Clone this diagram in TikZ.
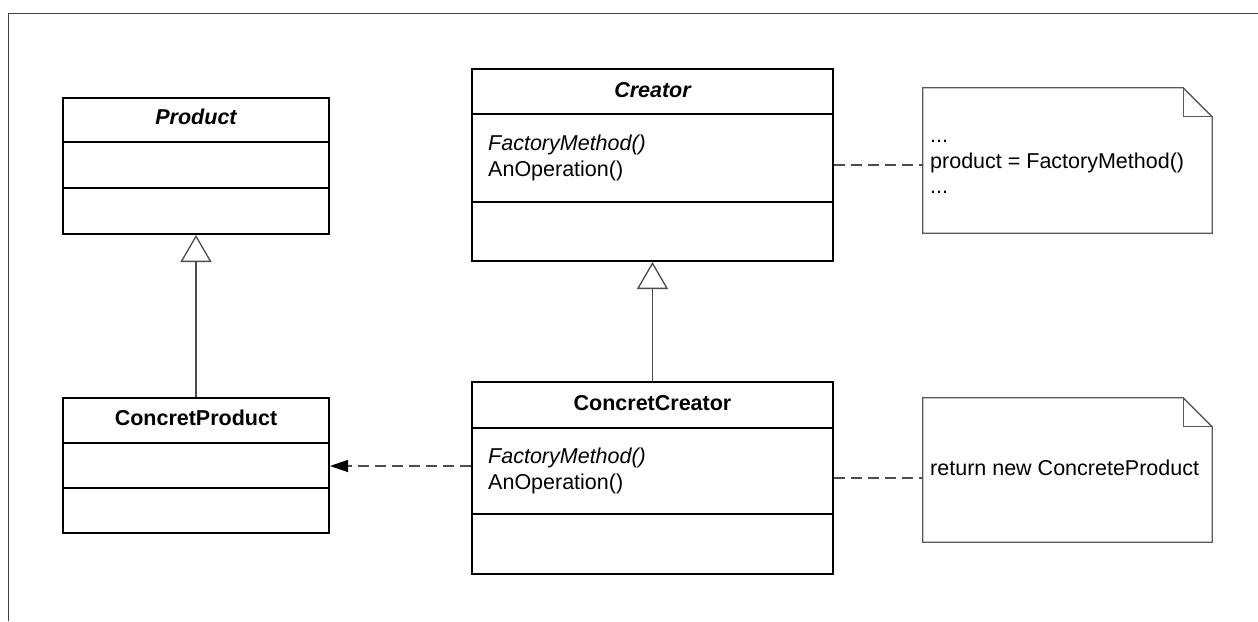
\documentclass[tikz,border=0pt]{standalone}
\usepackage{fontspec}
\setmainfont{Liberation Sans}
\usetikzlibrary{arrows.meta,calc}
\begin{document}
\begin{tikzpicture}[x=1pt,y=-1pt,
  classbox/.style={draw=black, line width=2pt, inner sep=0pt, fill=white},
  divider/.style={draw=black, line width=2pt},
  txt/.style={font=\fontsize{21.5}{26}\selectfont, inner sep=0pt, anchor=base west},
  title/.style={font=\fontsize{21.5}{26}\selectfont\bfseries, inner sep=0pt, anchor=base},
  notebox/.style={inner sep=0pt, minimum width=289pt},
  noteline/.style={draw=black!65, line width=1.3pt, line join=miter},
  inherit/.style={draw=black!70, line width=1.3pt,
    -{Triangle[length=27pt,width=31pt,fill=white]}},
  depend/.style={draw=black!70, line width=1.3pt, dash pattern=on 11pt off 6pt,
    -{Triangle[length=18pt,width=12pt,fill=black,color=black]}},
  anchorline/.style={draw=black!70, line width=1.3pt, dash pattern=on 11pt off 6pt},
  frame/.style={draw=black!75, line width=1pt}
]
\useasboundingbox (0,0) rectangle (1258,621);

% outer frame (left and top edges)
\draw[frame] (8,621) -- (8,13) -- (1258,13);

% ---- Product ----
\node[classbox, minimum width=266pt, minimum height=136pt] (product) at (196,166) {};
\draw[divider] (product.west |- 0,142) -- (product.east |- 0,142);
\draw[divider] (product.west |- 0,188) -- (product.east |- 0,188);
\node[title, font=\fontsize{21.5}{26}\selectfont\bfseries\itshape] (productT) at (196,124.5) {Product};

% ---- ConcretProduct ----
\node[classbox, minimum width=266pt, minimum height=135pt] (cproduct) at (196,465.5) {};
\draw[divider] (cproduct.west |- 0,443) -- (cproduct.east |- 0,443);
\draw[divider] (cproduct.west |- 0,488) -- (cproduct.east |- 0,488);
\node[title] (cproductT) at (196,425) {ConcretProduct};

% ---- Creator ----
\node[classbox, minimum width=361pt, minimum height=192pt] (creator) at (652.5,165) {};
\draw[divider] (creator.west |- 0,114) -- (creator.east |- 0,114);
\draw[divider] (creator.west |- 0,202) -- (creator.east |- 0,202);
\node[title, font=\fontsize{21.5}{26}\selectfont\bfseries\itshape] (creatorT) at (652.5,97) {Creator};
\node[txt, font=\fontsize{21.5}{26}\selectfont\itshape] (creatorFM) at (488,150) {FactoryMethod()};
\node[txt] (creatorOp) at (488,176) {AnOperation()};

% ---- ConcretCreator ----
\node[classbox, minimum width=361pt, minimum height=192pt] (ccreator) at (652.5,478) {};
\draw[divider] (ccreator.west |- 0,428) -- (ccreator.east |- 0,428);
\draw[divider] (ccreator.west |- 0,514) -- (ccreator.east |- 0,514);
\node[title] (ccreatorT) at (652.5,410) {ConcretCreator};
\node[txt, font=\fontsize{21.5}{26}\selectfont\itshape] (ccreatorFM) at (488,463) {FactoryMethod()};
\node[txt] (ccreatorOp) at (488,489) {AnOperation()};

% ---- notes ----
\node[notebox, minimum height=145pt] (note1) at (1067.5,160.5) {};
\node[notebox, minimum height=144pt] (note2) at (1067.5,470) {};
\foreach \n in {note1,note2}{
  \draw[noteline] (\n.north west) -- ($(\n.north east)+(-29,0)$)
    -- ($(\n.north east)+(0,29)$) -- (\n.south east) -- (\n.south west) -- cycle;
  \draw[noteline] ($(\n.north east)+(-29,0)$) |- ($(\n.north east)+(0,29)$);
}
\node[txt] (note1a) at (930,142) {...};
\node[txt] (note1b) at (930,168) {product = FactoryMethod()};
\node[txt] (note1c) at (930,193.5) {...};
\node[txt] (note2T) at (930,475) {return new ConcreteProduct};

% ---- connectors ----
\draw[inherit] (cproduct.north) -- (product.south);
\draw[inherit] (ccreator.north) -- (creator.south);
\coordinate (depy) at (0,466);
\draw[depend] (ccreator.west |- depy) -- (cproduct.east |- depy);
\draw[anchorline] (creator.east) -- (creator.east -| note1.west);
\draw[anchorline] (ccreator.east) -- (ccreator.east -| note2.west);
\end{tikzpicture}
\end{document}
